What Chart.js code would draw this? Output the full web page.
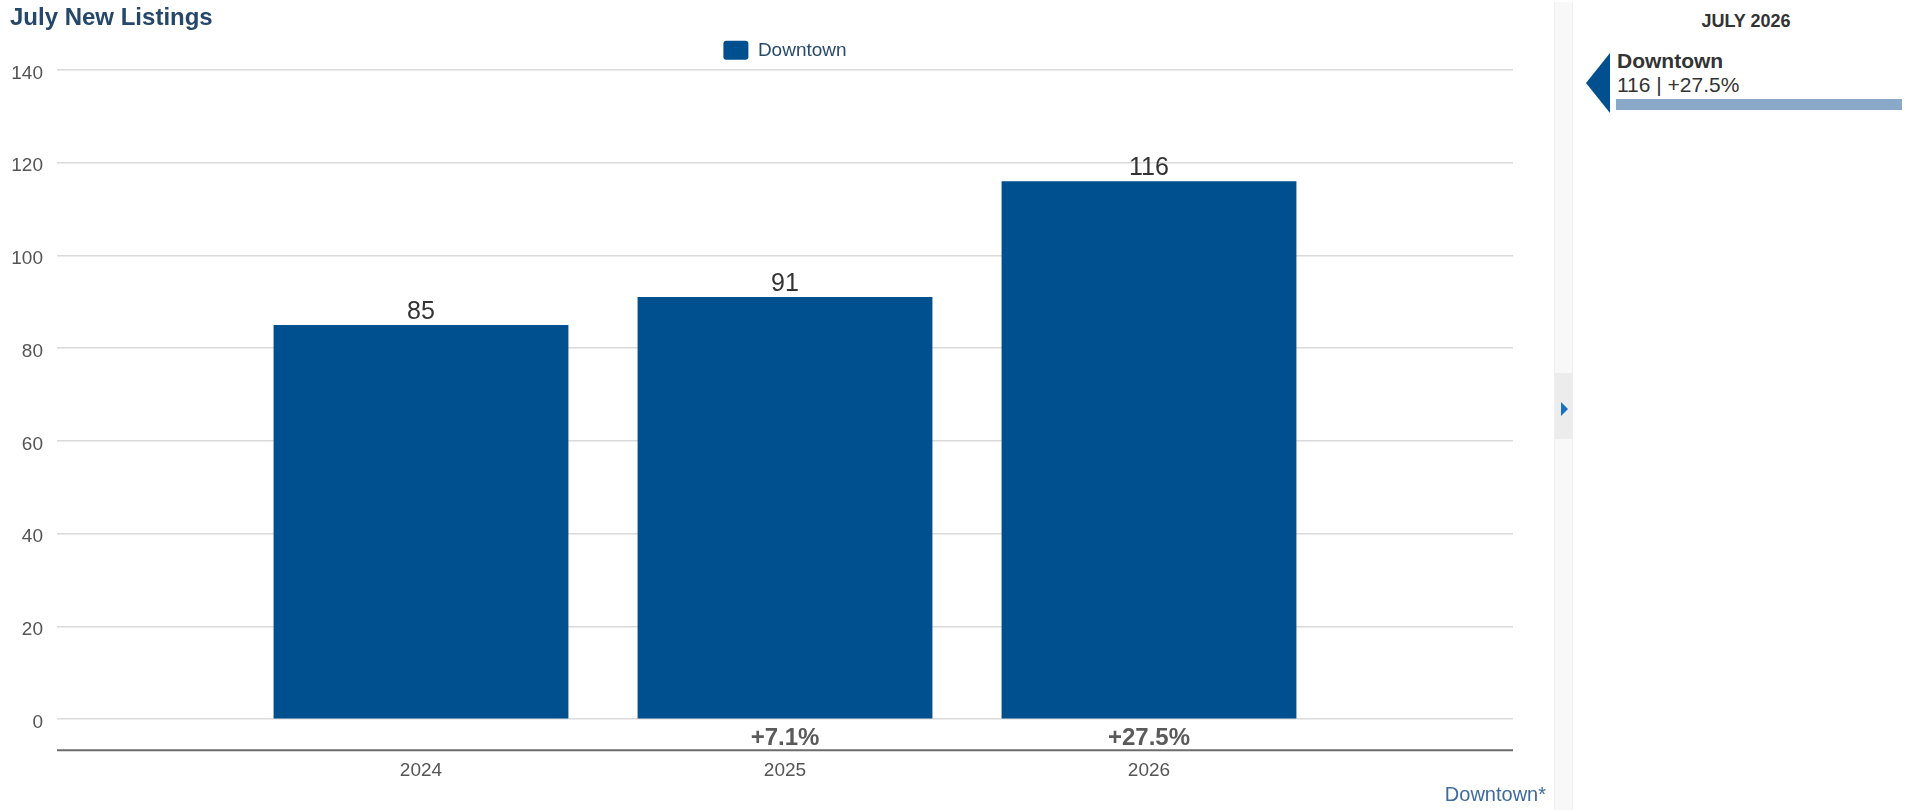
<!DOCTYPE html>
<html>
<head>
<meta charset="utf-8">
<script src="https://cdn.jsdelivr.net/npm/chart.js@4.4.1/dist/chart.umd.min.js"></script>
<style>
  html, body { margin: 0; padding: 0; background: #ffffff; width: 1920px; height: 810px; overflow: hidden; }
  body { position: relative; font-family: "Liberation Sans", Arial, Helvetica, sans-serif; }
  #chart { position: absolute; left: 0; top: 0; }
  .abs { position: absolute; white-space: nowrap; }
  #strip { left: 1554px; top: 2px; width: 17px; height: 808px; background: #f8f8f8; border-left: 1px solid #efefef; border-right: 1px solid #efefef; }
  #stripBox { left: 1555px; top: 373px; width: 17px; height: 66px; background: #ececec; }
  #stripArrow { left: 1561px; top: 402px; width: 0; height: 0; border-left: 7px solid #1a6fc1; border-top: 7px solid transparent; border-bottom: 7px solid transparent; }
  #panelTitle { left: 1580px; width: 332px; top: 12px; font-size: 18px; line-height: 18px; font-weight: bold; color: #333333; text-align: center; }
  #pointer { left: 1586px; top: 53px; width: 0; height: 0; border-right: 24px solid #004f8f; border-top: 30.5px solid transparent; border-bottom: 30.5px solid transparent; }
  #panelName { left: 1617px; top: 50px; font-size: 21px; line-height: 21px; font-weight: bold; color: #333333; }
  #panelValue { left: 1617px; top: 74px; font-size: 21px; line-height: 21px; color: #333333; }
  #panelBar { left: 1616px; top: 99px; width: 286px; height: 11px; background: #8aa8c8; }
  #footer { right: 374px; top: 784px; font-size: 20px; line-height: 20px; color: #3d6b9f; text-align: right; }
</style>
</head>
<body>
<canvas id="chart" width="1545" height="810"></canvas>
<div class="abs" id="strip"></div>
<div class="abs" id="stripBox"></div>
<div class="abs" id="stripArrow"></div>
<div class="abs" id="panelTitle"></div>
<div class="abs" id="pointer"></div>
<div class="abs" id="panelName"></div>
<div class="abs" id="panelValue"></div>
<div class="abs" id="panelBar"></div>
<div class="abs" id="footer"></div>
<script>
// ---- data ----
const chartTitle = 'July New Listings';
const seriesName = 'Downtown';
const categories = ['2024', '2025', '2026'];
const listings = [85, 91, 116];
const changeLabels = [null, '+7.1%', '+27.5%'];
const yTicks = [0, 20, 40, 60, 80, 100, 120, 140];
const panelHeading = 'JULY 2026';
const footerText = 'Downtown*';

// ---- styles ----
const FONT = '"Liberation Sans", Arial, Helvetica, sans-serif';
const BAR_COLOR = '#004f8f';

// padded category axis so the three bars sit at 1/4, 2/4, 3/4 of the plot width
const labels = [''].concat(categories, ['']);
const values = [null].concat(listings, [null]);
const changes = [null].concat(changeLabels, [null]);

const annotations = {
  id: 'annotations',
  afterDatasetsDraw(chart) {
    const ctx = chart.ctx;
    const meta = chart.getDatasetMeta(0);
    const area = chart.chartArea;
    ctx.save();
    meta.data.forEach((bar, i) => {
      if (values[i] == null) return;
      ctx.font = '25px ' + FONT;
      ctx.fillStyle = '#333333';
      ctx.textAlign = 'center';
      ctx.textBaseline = 'alphabetic';
      ctx.fillText(String(values[i]), bar.x, bar.y - 6);
      if (changes[i]) {
        ctx.font = 'bold 24px ' + FONT;
        ctx.fillStyle = '#5a5a5a';
        ctx.fillText(changes[i], bar.x, area.bottom + 26);
      }
    });
    // dark axis line below the change row
    ctx.strokeStyle = '#6b6b6b';
    ctx.lineWidth = 2;
    ctx.beginPath();
    ctx.moveTo(area.left, area.bottom + 31);
    ctx.lineTo(area.right, area.bottom + 31);
    ctx.stroke();
    ctx.restore();
  }
};

new Chart(document.getElementById('chart'), {
  type: 'bar',
  data: {
    labels: labels,
    datasets: [{
      label: seriesName,
      data: values,
      backgroundColor: BAR_COLOR,
      borderWidth: 0,
      categoryPercentage: 0.9,
      barPercentage: 0.9
    }]
  },
  options: {
    responsive: false,
    devicePixelRatio: 1,
    animation: false,
    layout: { padding: { left: 10, right: 32, top: 0, bottom: 28 } },
    plugins: {
      title: {
        display: true,
        text: chartTitle,
        align: 'start',
        color: '#25476a',
        font: { family: FONT, size: 24, weight: 'bold', lineHeight: 1.2 },
        padding: { top: 4, bottom: 0 }
      },
      legend: {
        display: true,
        position: 'top',
        fullSize: false,
        labels: {
          color: '#2a4a6c',
          font: { family: FONT, size: 19 },
          boxWidth: 25,
          boxHeight: 19,
          padding: 8,
          useBorderRadius: true,
          borderRadius: 3
        }
      },
      tooltip: { enabled: false }
    },
    scales: {
      x: {
        offset: false,
        grid: { display: false, drawTicks: true, tickLength: 40 },
        border: { display: false },
        ticks: {
          color: '#555555',
          font: { family: FONT, size: 19 },
          padding: 0,
          maxRotation: 0,
          autoSkip: false
        }
      },
      y: {
        min: yTicks[0],
        max: yTicks[yTicks.length - 1],
        afterFit(scale) { scale.width = 47; },
        afterBuildTicks(scale) { scale.ticks = yTicks.map(v => ({ value: v })); },
        grid: { color: '#dadada', lineWidth: 1.5, drawTicks: false },
        border: { display: false },
        ticks: {
          color: '#555555',
          font: { family: FONT, size: 19 },
          padding: 14,
          labelOffset: 3.5
        }
      }
    }
  },
  plugins: [annotations]
});

// ---- side panel ----
const last = listings.length - 1;
document.getElementById('panelTitle').textContent = panelHeading;
document.getElementById('panelName').textContent = seriesName;
document.getElementById('panelValue').textContent = listings[last] + ' | ' + changeLabels[last];
document.getElementById('footer').textContent = footerText;
</script>
</body>
</html>
